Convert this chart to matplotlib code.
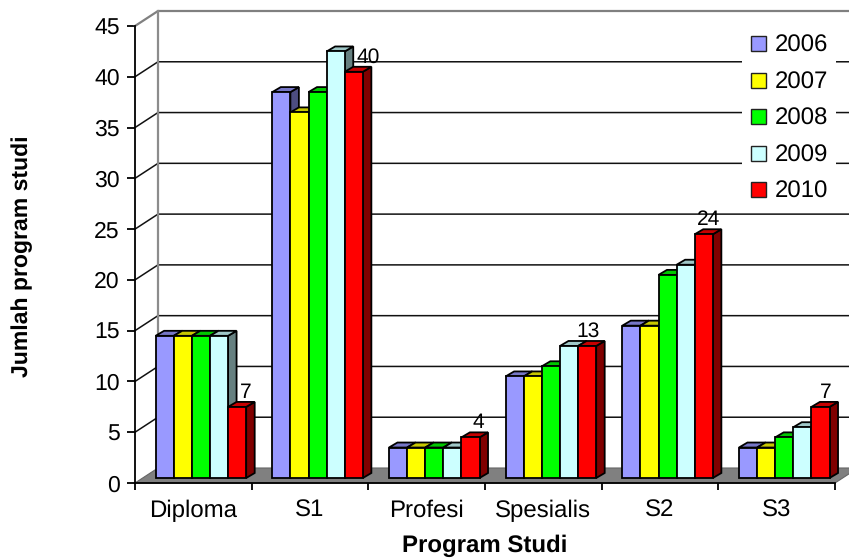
import matplotlib
matplotlib.use("Agg")
import matplotlib.pyplot as plt
from matplotlib.patches import Patch, Polygon

plt.rcParams["font.family"] = ["Liberation Sans", "DejaVu Sans"]
plt.rcParams["text.hinting"] = "no_hinting"
plt.rcParams["text.hinting_factor"] = 1

categories = ["Diploma", "S1", "Profesi", "Spesialis", "S2", "S3"]
years = ["2006", "2007", "2008", "2009", "2010"]
v2006 = [14, 38, 3, 10, 15, 3]
v2007 = [14, 36, 3, 10, 15, 3]
v2008 = [14, 38, 3, 11, 20, 4]
v2009 = [14, 42, 3, 13, 21, 5]
v2010 = [7, 40, 4, 13, 24, 7]
series = [v2006, v2007, v2008, v2009, v2010]
colors = ["#9999FF", "#FFFF00", "#00FF00", "#CCFFFF", "#FF0000"]

W, H = 849, 558
fig = plt.figure(figsize=(W / 100, H / 100), dpi=100, facecolor="white")
ax = fig.add_axes([135 / W, (H - 483) / H, 700 / W, 457 / H])
ax.set_xlim(0, 6)
ax.set_ylim(0, 45)
ax.patch.set_visible(False)

# Pixel shifts that fake the depth of the chart box and of each bar
wall_dx, wall_dy = 23, 15
bar_dx, bar_dy = 8.5, 5
grey = "#808080"


def shifted(x, y, dx, dy):
    px = ax.transData.transform((x, y))
    return px[0] + dx, px[1] + dy


# Floor of the box
floor = [shifted(0, 0, 0, 0), shifted(6, 0, 0, 0),
         shifted(6, 0, wall_dx, wall_dy), shifted(0, 0, wall_dx, wall_dy)]
ax.add_patch(Polygon(floor, closed=True, transform=None, facecolor=grey,
                     edgecolor="#666666", lw=0.8, zorder=1, clip_on=False))

# Grid lines run along the side wall, then across the back wall
for level in range(5, 45, 5):
    a = shifted(0, level, 0, 0)
    b = shifted(0, level, wall_dx, wall_dy)
    c = shifted(6, level, wall_dx, wall_dy)
    ax.plot([a[0], b[0], c[0]], [a[1], b[1], c[1]], transform=None, color="#111111",
            lw=1.1, zorder=1.5, clip_on=False, solid_joinstyle="miter")

# Outline of the side and back walls
a = shifted(0, 45, 0, 0)
b = shifted(0, 45, wall_dx, wall_dy)
c = shifted(6, 45, wall_dx, wall_dy)
d = shifted(0, 0, wall_dx, wall_dy)
ax.plot([a[0], b[0], c[0]], [a[1], b[1], c[1]], transform=None, color=grey, lw=1.6,
        zorder=1.6, clip_on=False)
ax.plot([b[0], d[0]], [b[1], d[1]], transform=None, color="#8c8c8c", lw=1.6, zorder=1.6,
        clip_on=False)


def darker(hex_color, factor):
    r, g, b_ = matplotlib.colors.to_rgb(hex_color)
    return (r * factor, g * factor, b_ * factor)


bar_w = 0.1553
margin = 0.108
z = 3.0
for c_i in range(len(categories)):
    for s_i, values in enumerate(series):
        v = values[c_i]
        x0 = c_i + margin + s_i * bar_w
        x1 = x0 + bar_w
        front = [shifted(x0, 0, bar_dx - 0.5, bar_dy), shifted(x1, 0, bar_dx - 0.5, bar_dy),
                 shifted(x1, v, bar_dx - 0.5, bar_dy), shifted(x0, v, bar_dx - 0.5, bar_dy)]
        top = [front[3], front[2],
               (front[2][0] + bar_dx, front[2][1] + bar_dy),
               (front[3][0] + bar_dx, front[3][1] + bar_dy)]
        side = [front[1], (front[1][0] + bar_dx, front[1][1] + bar_dy),
                (front[2][0] + bar_dx, front[2][1] + bar_dy), front[2]]
        for pts, face in ((side, darker(colors[s_i], 0.5)),
                          (top, darker(colors[s_i], 0.78)),
                          (front, colors[s_i])):
            ax.add_patch(Polygon(pts, closed=True, transform=None, facecolor=face,
                                 edgecolor="black", lw=1.3, zorder=z, clip_on=False,
                                 joinstyle="miter"))
            z += 0.001

# Only the 2010 bars carry value labels
label_nudge = [9, 14, 8, 1, 5, 5]
for c_i, v in enumerate(v2010):
    xc = c_i + margin + 4.5 * bar_w
    px, py = shifted(xc, v, bar_dx - 0.5 + label_nudge[c_i], bar_dy + 5)
    ax.text(px, py, str(v), transform=None, ha="center", va="bottom", fontsize=15,
            color="black", zorder=6)

# Axes and ticks
for name in ("top", "right"):
    ax.spines[name].set_visible(False)
for name in ("left", "bottom"):
    ax.spines[name].set_linewidth(1.3)
    ax.spines[name].set_zorder(2)
ax.set_yticks(range(0, 50, 5))
ax.tick_params(axis="y", length=6, width=1.3, labelsize=16.5, pad=5)
ax.set_xticks(range(0, 7))
ax.set_xticklabels([])
ax.tick_params(axis="x", which="major", length=5, width=1.3)
ax.set_xticks([i + 0.5 for i in range(6)], minor=True)
ax.set_xticklabels(categories, minor=True, fontsize=17)
ax.tick_params(axis="x", which="minor", length=0, pad=12)

fig.text(485 / W, 1 - 546 / H, "Program Studi", ha="center", va="center",
         fontsize=17, fontweight="bold")
fig.text(22 / W, 1 - 256 / H, "Jumlah program studi", ha="center", va="center",
         rotation=90, fontsize=16.5, fontweight="bold")

handles = [Patch(facecolor=c, edgecolor="#222222", lw=1.0, label=y)
           for c, y in zip(colors, years)]
leg = ax.legend(handles=handles, loc="upper left", bbox_to_anchor=(742 / W, 1 - 26.2 / H),
                bbox_transform=fig.transFigure, frameon=True, fontsize=17, framealpha=1,
                edgecolor="none", facecolor="white", fancybox=False, borderpad=0.36,
                borderaxespad=0, handlelength=0.64, handleheight=0.6, handletextpad=0.38,
                labelspacing=0.6)
leg.set_zorder(5)

fig.savefig("out.png", dpi=100, facecolor="white")
